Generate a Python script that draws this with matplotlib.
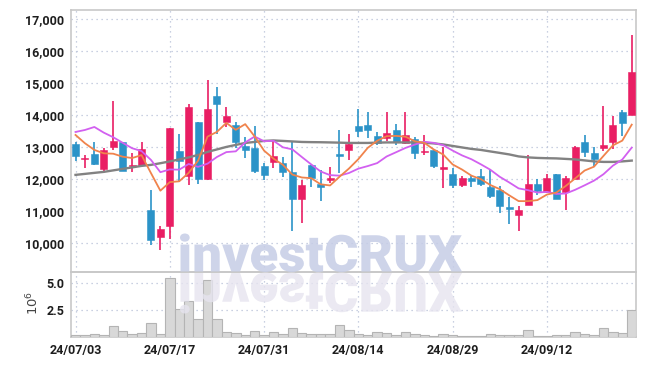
import matplotlib
import numpy as np

matplotlib.use("Agg")
import matplotlib.pyplot as plt
from matplotlib.font_manager import FontProperties
from matplotlib.patches import PathPatch
from matplotlib.textpath import TextPath
from matplotlib.transforms import Affine2D

plt.rcParams["font.family"] = ["Roboto", "DejaVu Sans"]

# daily OHLC, 24/07/03 .. 24/09/30
opens = [13100, 12610, 12780, 12300, 13010, 13160, 12390, 12420, 11030, 10170,
         10510, 12880, 12090, 13780, 11990, 14590, 13770, 13690, 13030, 12970,
         12410, 12540, 12510, 12200, 11360, 12440, 11850, 11950, 12750, 12910,
         13640, 13690, 13340, 13270, 13530, 13120, 13240, 12840, 12910, 12310,
         12160, 11810, 12030, 12090, 11740, 11660, 11080, 10860, 11190, 11830,
         11590, 12160, 11590, 12000, 13150, 12810, 12980, 13140, 14100, 14000]
highs = [13170, 12740, 13150, 12960, 14430, 13160, 12820, 13150, 11660, 10510,
         13600, 13390, 14330, 13780, 15090, 14880, 14240, 13790, 13300, 13650,
         12500, 13200, 12700, 13170, 11970, 12440, 12280, 12360, 13530, 13400,
         14180, 14100, 13480, 14100, 13720, 14090, 13300, 13370, 12930, 12990,
         12330, 12100, 12090, 12300, 12300, 11780, 11430, 11140, 12750, 11990,
         12160, 12160, 12090, 13020, 13380, 12990, 14290, 13970, 14160, 16500]
lows = [12560, 12330, 12430, 12220, 12900, 12240, 12230, 12390, 9920, 9760,
        10120, 11900, 11820, 11840, 11980, 13400, 13620, 12960, 12640, 12180,
        11970, 12330, 12050, 10370, 10620, 11740, 11300, 11880, 12180, 12580,
        13320, 13270, 13060, 13200, 13060, 13090, 12620, 12740, 12330, 11710,
        11710, 11760, 11730, 11780, 11400, 10930, 10590, 10370, 11180, 11480,
        11560, 11360, 11030, 11990, 12680, 12390, 12880, 12930, 13340, 14000]
closes = [12730, 12650, 12470, 12900, 13190, 12260, 12440, 12930, 10090, 10430,
          13600, 12570, 14250, 12000, 14190, 14350, 13970, 13170, 12890, 12260,
          12130, 12720, 12200, 11360, 11810, 12020, 11760, 12020, 12720, 13090,
          13500, 13530, 13130, 13430, 13140, 13370, 12820, 12880, 12390, 12360,
          11810, 12020, 11920, 11840, 11450, 11160, 11060, 11010, 11830, 11620,
          12020, 11380, 12040, 13010, 12850, 12630, 13060, 13690, 13760, 15350]
# volume in millions of shares
volumes = [0.16, 0.16, 0.31, 0.16, 1.0, 0.53, 0.25, 0.41, 1.35, 0.31,
           5.47, 2.58, 3.34, 1.66, 5.31, 1.64, 0.5, 0.39, 0.2, 0.6,
           0.16, 0.47, 0.25, 0.87, 0.41, 0.31, 0.31, 0.25, 1.16, 0.63,
           0.31, 0.16, 0.47, 0.37, 0.16, 0.47, 0.25, 0.16, 0.1, 0.25,
           0.16, 0.06, 0.06, 0.06, 0.25, 0.16, 0.16, 0.16, 0.63, 0.08,
           0.08, 0.14, 0.14, 0.45, 0.25, 0.16, 0.82, 0.44, 0.34, 2.5]
# moving averages as drawn
ma5 = [13375, 13115, 12906, 12800, 12788, 12694, 12652, 12744, 12182, 11630,
       11898, 11924, 12188, 12570, 13322, 13472, 13752, 13536, 13714, 13328,
       12884, 12634, 12440, 12134, 12044, 12022, 11830, 11794, 12066, 12322,
       12618, 12972, 13194, 13336, 13346, 13320, 13178, 13128, 12920, 12764,
       12452, 12292, 12100, 11990, 11808, 11678, 11486, 11304, 11302, 11336,
       11508, 11572, 11778, 12014, 12260, 12382, 12718, 13048, 13198, 13698]
ma10 = [13469, 13531, 13625, 13447, 13303, 13130, 12960, 12870, 12594, 12209,
        12296, 12288, 12466, 12376, 12476, 12685, 12838, 12862, 13142, 13325,
        13178, 13193, 12988, 12924, 12686, 12453, 12232, 12117, 12100, 12183,
        12320, 12401, 12494, 12701, 12834, 12969, 13075, 13161, 13128, 13055,
        12886, 12735, 12614, 12455, 12286, 12065, 11889, 11702, 11646, 11572,
        11593, 11529, 11541, 11658, 11798, 11945, 12145, 12413, 12606, 12979]
ma_long = [12125, 12156, 12188, 12219, 12266, 12313, 12359, 12406, 12438, 12490,
           12547, 12609, 12672, 12750, 12844, 12922, 13000, 13063, 13125, 13156,
           13188, 13203, 13188, 13172, 13156, 13150, 13147, 13141, 13134, 13125,
           13125, 13125, 13134, 13141, 13141, 13141, 13141, 13130, 13110, 13078,
           13031, 12984, 12938, 12906, 12859, 12813, 12766, 12703, 12672, 12656,
           12647, 12641, 12625, 12609, 12578, 12547, 12531, 12531, 12547, 12572]
date_labels = ["24/07/03", "24/07/17", "24/07/31", "24/08/14", "24/08/29", "24/09/12"]
price_ticks = [10000, 11000, 12000, 13000, 14000, 15000, 16000, 17000]
volume_ticks = [2.5, 5.0]

RED = "#e91e63"
BLUE = "#2b93c8"
GRID = "#b8c1d8"
SPINE = "#c8c8c8"
TEXT = "#1e1e1e"

W, H = 645, 366
fig = plt.figure(figsize=(W / 100, H / 100), dpi=100)
left, right = 71, 635.5
ax = fig.add_axes([left / W, 1 - 272 / H, (right - left) / W, (272 - 9.5) / H])
axv = fig.add_axes([left / W, 1 - 337 / H, (right - left) / W, (337 - 272) / H], sharex=ax)

x = np.arange(len(closes))
o = np.array(opens, dtype=float)
c = np.array(closes, dtype=float)
colors = np.where(c >= o, RED, BLUE)
body_bottom = np.minimum(o, c)
body_height = np.maximum(np.abs(c - o), 45)

ax.vlines(x, lows, highs, colors=colors, lw=1.2, zorder=3)
ax.bar(x, body_height, bottom=body_bottom, width=0.74, color=colors,
       edgecolor=colors, linewidth=0.4, zorder=4)
ax.plot(x, ma_long, color="#828282", lw=1.7, zorder=5)
ax.plot(x, ma10, color="#d260f0", lw=1.3, zorder=5)
ax.plot(x, ma5, color="#f0834c", lw=1.3, zorder=5)

axv.bar(x, volumes, width=1.0, color="#d8d8d8", edgecolor="#b4b4b4", linewidth=0.8, zorder=3)

for a in (ax, axv):
    a.set_facecolor("none")
    a.grid(True, color=GRID, linestyle=(0, (1, 3)), lw=0.9, zorder=0)
    a.tick_params(length=0, pad=5, labelsize=9, labelcolor=TEXT)
    for s in a.spines.values():
        s.set_color(SPINE)
        s.set_linewidth(1.2)

ax.set_xlim(-0.48, 59.4)
ax.set_ylim(9084, 17303)
ax.set_yticks(price_ticks)
ax.set_yticklabels([f"{v:,}" for v in price_ticks], fontweight="bold")
ax.set_xticks(np.arange(0, len(closes), 10))
ax.tick_params(axis="x", labelbottom=False)

axv.set_ylim(0, 6.06)
axv.set_yticks(volume_ticks)
axv.set_yticklabels([f"{v:.1f}" for v in volume_ticks], fontweight="bold")
axv.set_xticks(np.arange(0, len(closes), 10))
axv.set_xticklabels(date_labels, fontweight="bold")
fig.text(33 / W, 1 - 303 / H, r"$10^{6}$", rotation=90, ha="center", va="center",
         fontsize=9.5, color="#444444")


def watermark(x0, y_base, width, height, color, alpha, flip=False):
    path = TextPath((0, 0), "investCRUX", size=1,
                    prop=FontProperties(family="Roboto", weight=900))
    ext = path.get_extents()
    sy = height / ext.height * (-1 if flip else 1)
    tr = (Affine2D().translate(-ext.x0, -ext.y0)
          .scale(width / ext.width, sy)
          .translate(x0, H - y_base)
          .scale(1 / W, 1 / H) + fig.transFigure)
    fig.add_artist(PathPatch(path, transform=tr, facecolor=color,
                             edgecolor="none", alpha=alpha, zorder=6))


watermark(180, 272, 282, 38.5, "#c6cde6", 0.85)
watermark(180, 272.5, 282, 41, "#e6e4ef", 0.8, flip=True)

fig.savefig("out.png", dpi=100)
